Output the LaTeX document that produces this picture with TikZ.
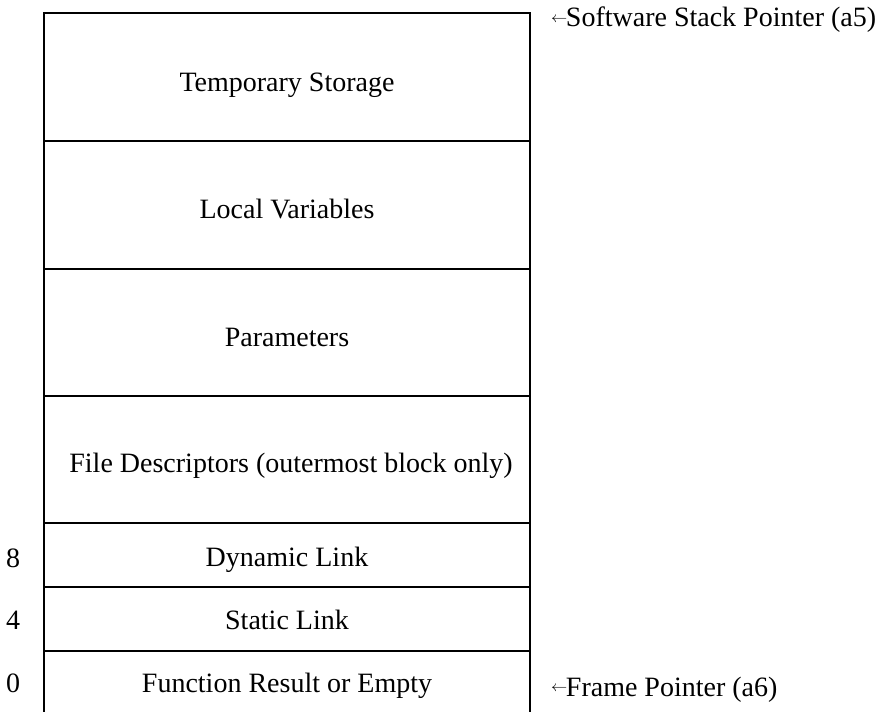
\documentclass[tikz,border=0pt]{standalone}
\usepackage{fontspec}
\setmainfont{Liberation Serif}
\begin{document}
\begin{tikzpicture}[x=1pt,y=-1pt,
  lbl/.style={font=\fontsize{28}{32}\selectfont, inner sep=0pt, anchor=base},
  frame/.style={line width=1.3pt, black}]
\useasboundingbox (0,0) rectangle (878,712);
\coordinate (tl) at (44,13);
\coordinate (tr) at (530,13);
\coordinate (bl) at (44,712);
\coordinate (br) at (530,712);
\draw[frame] (bl) -- (tl) -- (tr) -- (br);
\foreach \y/\n in {141/a,269/b,396/c,523/d,587/e,651/f}{
  \coordinate (l\n) at (44,\y);
  \coordinate (r\n) at (530,\y);
  \draw[frame] (l\n) -- (r\n);
}
\node[lbl] (ts) at (287,91) {Temporary Storage};
\node[lbl] (lv) at (287,218) {Local Variables};
\node[lbl] (pa) at (287,346) {Parameters};
\node[lbl] (fd) at (291,472) {File Descriptors (outermost block only)};
\node[lbl] (dl) at (287,566) {Dynamic Link};
\node[lbl] (sl) at (287,629) {Static Link};
\node[lbl] (fr) at (287,692) {Function Result or Empty};
\node[lbl] (n8) at (13,567) {8};
\node[lbl] (n4) at (13,629) {4};
\node[lbl] (n0) at (13,692) {0};
\node[lbl, anchor=base west] (ssp) at (551,27) {\raisebox{0.15em}{\scalebox{0.65}[0.6]{$\leftarrow$}}\kern-0.05em Software Stack Pointer (a5)};
\node[lbl, anchor=base west] (fp) at (551,696) {\raisebox{0.15em}{\scalebox{0.65}[0.6]{$\leftarrow$}}\kern-0.05em Frame Pointer (a6)};
\end{tikzpicture}
\end{document}
